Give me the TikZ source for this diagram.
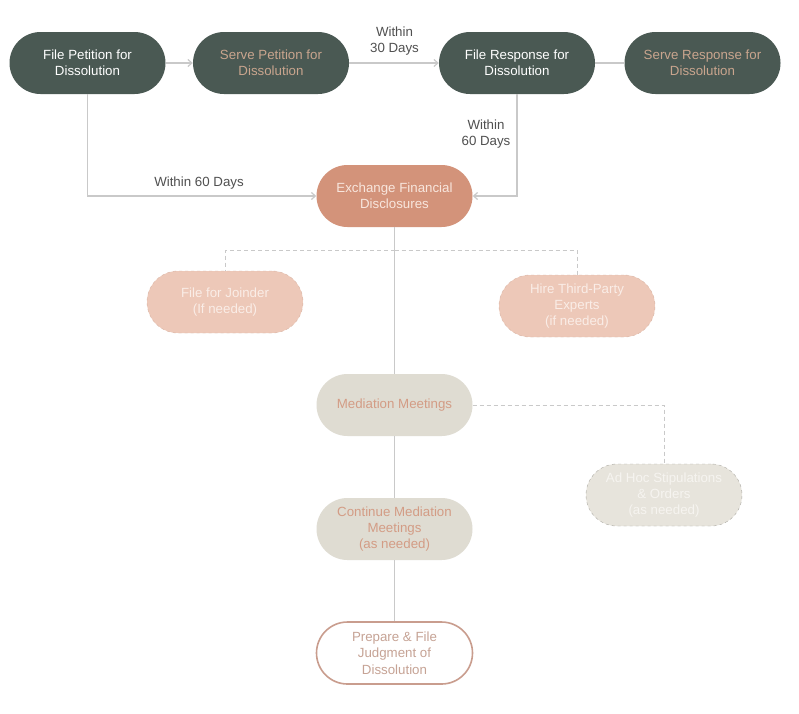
\documentclass[tikz,border=0pt]{standalone}
\usepackage{fontspec}
\setmainfont{Liberation Sans}
\usetikzlibrary{arrows.meta}
\definecolor{darkbox}{HTML}{4A5953}
\definecolor{tantext}{HTML}{C9A58E}
\definecolor{salmon}{HTML}{D3937A}
\definecolor{salmontext}{HTML}{F8E6DD}
\definecolor{pinkbox}{HTML}{EDC8B8}
\definecolor{pinkline}{HTML}{D8B3A3}
\definecolor{pinktext}{HTML}{FAEDE7}
\definecolor{greybox}{HTML}{DFDCD2}
\definecolor{greytext}{HTML}{D39C85}
\definecolor{adhocbox}{HTML}{E7E4DC}
\definecolor{adhocline}{HTML}{ABA9A2}
\definecolor{adhoctext}{HTML}{F6F4F0}
\definecolor{prepline}{HTML}{C99D8E}
\definecolor{preptext}{HTML}{C6A395}
\definecolor{connline}{HTML}{C9C9C9}
\definecolor{lbltext}{HTML}{505050}
\begin{document}
\begin{tikzpicture}[x=1pt,y=-1pt,
  stadium/.style={rectangle, rounded corners=31pt, minimum width=156pt, minimum height=62pt,
    align=center, inner sep=2pt, font=\fontsize{13.3}{16.3}\selectfont},
  darknode/.style={stadium, fill=darkbox, text=white},
  darkserve/.style={stadium, fill=darkbox, text=tantext},
  exnode/.style={stadium, fill=salmon, text=salmontext},
  optnode/.style={stadium, fill=pinkbox, draw=pinkline, dashed, text=pinktext},
  mednode/.style={stadium, fill=greybox, text=greytext},
  adhocnode/.style={stadium, fill=adhocbox, draw=adhocline, dashed, text=adhoctext},
  prepnode/.style={stadium, fill=white, draw=prepline, line width=1.6pt, text=preptext},
  conn/.style={draw=connline, line width=1.2pt},
  arr/.style={conn, -{Straight Barb[length=4pt,width=7pt]}},
  dconn/.style={draw=connline, line width=1pt, dash pattern=on 4pt off 3pt},
  lbl/.style={align=center, text=lbltext, font=\fontsize{13.3}{16.3}\selectfont, inner sep=1pt}
]
\useasboundingbox[fill=white] (0,0) rectangle (799,713);

\node[darknode]  (fp) at (87.5,63)  {File Petition for\\Dissolution};
\node[darkserve] (sp) at (271,63)   {Serve Petition for\\Dissolution};
\node[darknode]  (fr) at (517,63)   {File Response for\\Dissolution};
\node[darkserve] (sr) at (702.5,63) {Serve Response for\\Dissolution};
\node[exnode]    (ex) at (394.5,196) {Exchange Financial\\Disclosures};
\node[optnode]   (jo) at (225,302)  {File for Joinder\\(If needed)};
\node[optnode]   (hi) at (577,306)  {Hire Third-Party\\Experts\\(if needed)};
\node[mednode]   (mm) at (394.5,405) {Mediation Meetings};
\node[adhocnode] (ah) at (664,495)  {Ad Hoc Stipulations\\\&\ Orders\\(as needed)};
\node[mednode]   (cm) at (394.5,529) {Continue Mediation\\Meetings\\(as needed)};
\node[prepnode]  (pf) at (394.5,653) {Prepare \& File\\Judgment of\\Dissolution};

\draw[arr] (fp) -- (sp);
\draw[arr] (sp) -- (fr);
\node[lbl] (l30) at (394.5,41) {Within\\30 Days};
\draw[conn] (fr) -- (sr);

\draw[arr] (fp.south) |- (ex.west);
\node[lbl] (l60a) at (199,183) {Within 60 Days};
\draw[arr] (fr.south) |- (ex.east);
\node[lbl] (l60b) at (486,134) {Within\\60 Days};

\draw[conn] (ex.south) -- (mm.north);
\coordinate (dj) at (394.5,250);
\draw[dconn] (dj) -| (jo.north);
\draw[dconn] (dj) -| (hi.north);

\draw[dconn] (mm.east) -| (ah.north);
\draw[conn] (mm.south) -- (cm.north);
\draw[conn] (cm.south) -- (pf.north);
\end{tikzpicture}
\end{document}
